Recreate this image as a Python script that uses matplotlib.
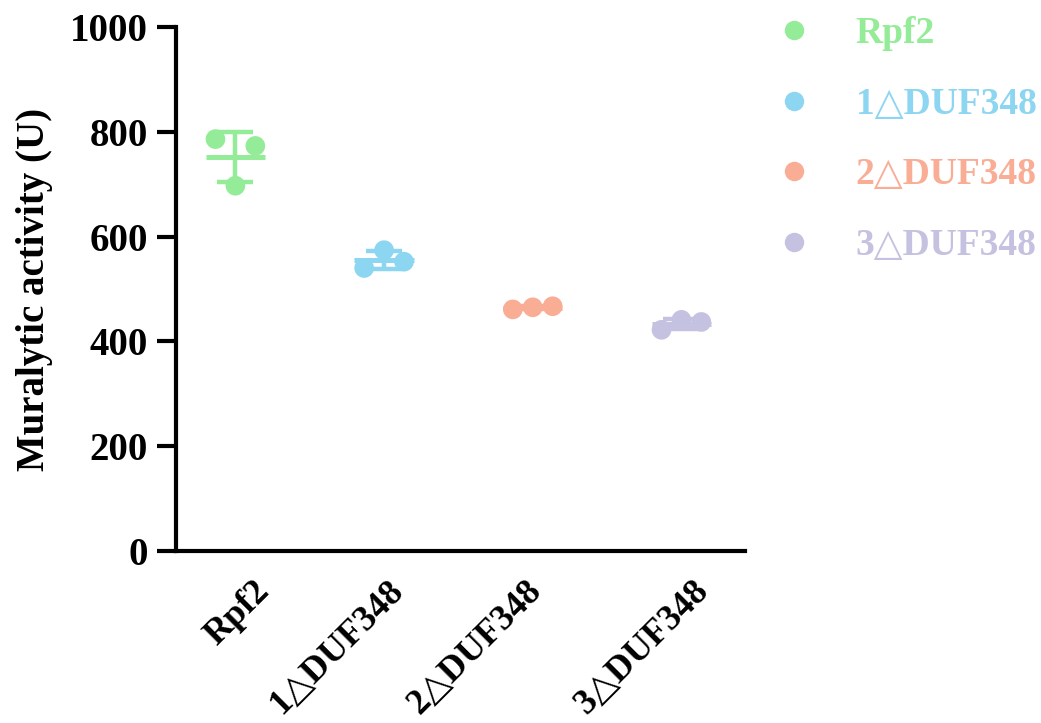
import matplotlib
matplotlib.use("Agg")
import matplotlib.pyplot as plt
from matplotlib.lines import Line2D
from matplotlib.transforms import ScaledTranslation
import numpy as np

# Muralytic activity per strain (three replicates each, left/middle/right)
groups = ["Rpf2", "1\u25b3DUF348", "2\u25b3DUF348", "3\u25b3DUF348"]
rpf2 = [786, 697, 773]
duf1 = [540, 574, 552]
duf2 = [461, 465, 467]
duf3 = [422, 441, 437]
colors = ["#95EC98", "#8DD6F1", "#F9AD95", "#C4C2E0"]
yticks = [0, 200, 400, 600, 800, 1000]

series = [rpf2, duf1, duf2, duf3]

plt.rcParams["font.family"] = ["Liberation Serif", "DejaVu Sans"]
plt.rcParams["font.weight"] = "bold"

fig = plt.figure(figsize=(10.41, 7.23), dpi=100)
ax = fig.add_axes([0.169, 0.238, 0.547, 0.7247])

jitter = np.array([-0.134, 0.0, 0.134])
for i, (vals, c) in enumerate(zip(series, colors)):
    vals = np.asarray(vals, dtype=float)
    m = vals.mean()
    sd = vals.std(ddof=1)
    ax.errorbar([i], [m], yerr=[sd], fmt="none", ecolor=c, elinewidth=3.2,
                capsize=13, capthick=3.2, zorder=2)
    ax.hlines(m, i - 0.2, i + 0.2, color=c, lw=3.6, zorder=2)
    ax.scatter(i + jitter, vals, s=200, color=c, edgecolors="none", zorder=3)

ax.set_xlim(-0.4, 3.43)
ax.set_ylim(0, 1000)
ax.set_yticks(yticks)
ax.set_yticklabels([str(t) for t in yticks], fontsize=28, fontweight="bold")
ax.set_xticks(range(len(groups)))
ax.set_xticklabels(groups, fontsize=26, fontweight="bold", rotation=45,
                   ha="right", va="top", rotation_mode="anchor")
ax.tick_params(axis="x", length=0, pad=17)
ax.tick_params(axis="y", length=14, width=3, pad=6)

# fine horizontal placement of the slanted category names (pixels)
label_shift_px = [18, 3, -8, 11]
for lab, dx in zip(ax.get_xticklabels(), label_shift_px):
    lab.set_transform(lab.get_transform() +
                      ScaledTranslation(dx / 100, 0, fig.dpi_scale_trans))

for side in ("top", "right"):
    ax.spines[side].set_visible(False)
for side in ("left", "bottom"):
    ax.spines[side].set_linewidth(3)
ax.set_ylabel("Muralytic activity (U)", fontsize=28, fontweight="bold", labelpad=12)

handles = [Line2D([], [], marker="o", ls="none", markersize=14,
                  markerfacecolor=c, markeredgecolor="none") for c in colors]
leg = fig.legend(handles, groups, loc="upper left", bbox_to_anchor=(0.741, 0.988),
                 frameon=False, fontsize=27, labelspacing=0.95,
                 handlelength=0.8, handletextpad=1.25, borderaxespad=0.0,
                 borderpad=0.2)
for txt, c in zip(leg.get_texts(), colors):
    txt.set_color(c)
    txt.set_fontweight("bold")

fig.savefig("out.png", dpi=100)
